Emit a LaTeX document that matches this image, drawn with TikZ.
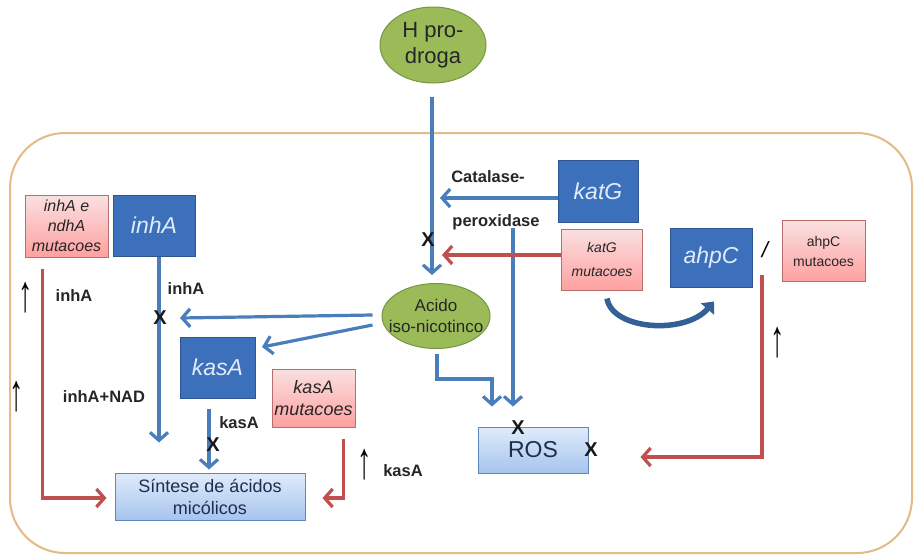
\documentclass[tikz,border=0pt]{standalone}
\usepackage{fontspec}
\usepackage{graphicx}
\setmainfont{Liberation Sans}
\usetikzlibrary{arrows.meta,shapes.geometric,calc}
\definecolor{boxblue}{RGB}{60,112,186}
\definecolor{boxblueD}{RGB}{45,85,145}
\definecolor{boxtxt}{RGB}{225,235,250}
\definecolor{arrblue}{RGB}{74,126,187}
\definecolor{curvblue}{RGB}{52,96,152}
\definecolor{arrred}{RGB}{192,80,77}
\definecolor{pinkT}{RGB}{250,224,224}
\definecolor{pinkB}{RGB}{255,160,160}
\definecolor{pinkD}{RGB}{185,110,110}
\definecolor{lbT}{RGB}{224,236,250}
\definecolor{lbB}{RGB}{165,196,238}
\definecolor{lbD}{RGB}{95,135,190}
\definecolor{leafgreen}{RGB}{155,187,89}
\definecolor{leafgreenD}{RGB}{120,150,70}
\definecolor{cellline}{RGB}{228,186,135}
\definecolor{darktxt}{RGB}{30,45,80}
\tikzset{
  genebox/.style={draw=boxblueD, fill=boxblue, line width=1pt, inner sep=0pt,
    font=\fontsize{23}{26}\selectfont\itshape, text=boxtxt},
  mutbox/.style={draw=pinkD, top color=pinkT, bottom color=pinkB, line width=1pt,
    inner sep=0pt, align=center, text=black!85},
  lbbox/.style={draw=lbD, top color=lbT, bottom color=lbB, line width=1pt,
    inner sep=0pt, align=center, text=darktxt},
  drug/.style={ellipse, draw=leafgreenD, fill=leafgreen, line width=1pt, inner sep=0pt},
  drugtxt/.style={align=center, text=black!85, inner sep=0pt},
  barr/.style={draw=arrblue, line width=3.2pt, -{Straight Barb[length=8pt,width=18pt]}},
  rarr/.style={draw=arrred, line width=3.2pt, -{Straight Barb[length=8pt,width=18pt]}},
  curv/.style={draw=curvblue, line width=5.5pt, -{Triangle[length=10pt,width=17pt]}},
  lbl/.style={font=\fontsize{16.5}{18}\selectfont\bfseries, text=black!85, inner sep=0pt},
  xmark/.style={font=\fontsize{20}{20}\selectfont\bfseries, text=black!90, inner sep=0pt},
  uparr/.style={font=\fontsize{26}{26}\selectfont, text=black, inner sep=0pt},
}
\begin{document}
\begin{tikzpicture}[x=1pt,y=-1pt]
\useasboundingbox (0,0) rectangle (917,558);
\fill[white] (0,0) rectangle (917,558);
% cell
\draw[cellline, line width=2pt, rounded corners=55pt] (10,133) rectangle (912,553);

% drugs
\node[drug, minimum width=106pt, minimum height=76pt] (hpro) at (433,45) {};
\node[drugtxt, font=\fontsize{22}{26}\selectfont] (hprotxt) at (hpro) {H pro-\\droga};
\node[drug, minimum width=108pt, minimum height=65pt] (acido) at (436,316) {};
\node[drugtxt, font=\fontsize{17}{21}\selectfont] (acidotxt) at (acido) {Acido\\iso-nicotinco};

% gene boxes
\node[genebox, minimum width=82pt, minimum height=61pt] (inhA) at (154,225.5) {inhA};
\node[genebox, minimum width=80pt, minimum height=62pt] (katG) at (598,191) {katG};
\node[genebox, minimum width=82pt, minimum height=59pt] (ahpC) at (711,257.5) {ahpC};
\node[genebox, minimum width=75pt, minimum height=61pt] (kasA) at (217.5,367.5) {kasA};

% mutation boxes
\node[mutbox, minimum width=83pt, minimum height=62pt, font=\fontsize{16}{20}\selectfont\itshape] (inhAmut) at (66.5,226) {inhA e\\ndhA\\mutacoes};
\node[mutbox, minimum width=81pt, minimum height=61pt, font=\fontsize{14}{24}\selectfont\itshape] (katGmut) at (602,259.5) {katG\\mutacoes};
\node[mutbox, minimum width=83pt, minimum height=61pt, font=\fontsize{14}{20}\selectfont] (ahpCmut) at (823.5,251) {ahpC\\mutacoes};
\node[mutbox, minimum width=83pt, minimum height=58pt, font=\fontsize{18}{22}\selectfont\itshape] (kasAmut) at (313.5,398) {kasA\\mutacoes};

% light blue boxes
\node[lbbox, minimum width=110pt, minimum height=46pt, font=\fontsize{23}{26}\selectfont] (ros) at (533,450) {ROS};
\node[lbbox, minimum width=190pt, minimum height=47pt, font=\fontsize{18}{22}\selectfont] (sintese) at (210,496.5) {Síntese de ácidos\\micólicos};

% free ends
\coordinate (perox) at (513,228);
\coordinate (xinh) at (180,318);
\coordinate (kasAin) at (262,347);
\coordinate (ahpred) at (762,275);

% blue connectors
\draw[barr, shorten >=8pt] ([xshift=-1pt,yshift=-13pt]hpro.south) -- ([xshift=-1pt]hpro.south |- acido.north);
\draw[barr, shorten >=8pt] (katG.west |- 0,198) -- ([xshift=-1pt]hpro.south |- 0,198);
\draw[barr, shorten >=20pt] (perox) -- (perox |- ros.north);
\draw[barr] ([xshift=-9pt,yshift=1pt]acido.west) -- (xinh);
\draw[barr] ([xshift=-9pt,yshift=-9pt]acido.west) -- (kasAin);
\draw[barr] ([xshift=1pt,yshift=-5pt]acido.south) -- ++(0,25) -| ([xshift=-41pt,yshift=20pt]ros.north);
\draw[barr] ([xshift=5pt]inhA.south) -- ++(0,186);
\draw[barr, shorten >=3pt] ([xshift=-8.5pt,yshift=-10pt]kasA.south) -- ([xshift=-8.5pt]kasA.south |- sintese.north);

% red connectors
\draw[rarr, shorten >=10pt] ([yshift=4.5pt]katGmut.west) -- ([xshift=-1pt,yshift=4.5pt]hpro.south |- katGmut.west);
\draw[rarr, shorten >=8pt] ([xshift=-24pt,yshift=-11pt]inhAmut.south) |- ([yshift=-1.5pt]sintese.west);
\draw[rarr, shorten >=17pt] ([xshift=30pt,yshift=-11pt]kasAmut.south) |- ([yshift=-1.5pt]sintese.east);
\draw[rarr] (ahpred) |- ([xshift=52pt,yshift=-7pt]ros.east);

% curved katG mut -> ahpC
\draw[curv] ([xshift=5pt,yshift=-8pt]katGmut.south) .. controls (612,330) and (685,335) .. ([xshift=3pt,yshift=-14pt]ahpC.south);

% labels
\node[lbl] (lcat) at (488,177) {Catalase-};
\node[lbl] (lper) at (496,222) {peroxidase};
\node[lbl] (linh1) at (186,289) {inhA};
\node[lbl] (linh2) at (74,296) {inhA};
\node[lbl] (lnad) at (104,397) {inhA+NAD};
\node[lbl] (lkas1) at (239,423) {kasA};
\node[lbl] (lkas2) at (403,471) {kasA};
\node[font=\fontsize{22}{22}\selectfont\itshape, inner sep=0pt] (slash) at (765,250) {/};

% X marks
\node[xmark] (x1) at (428,240) {X};
\node[xmark] (x2) at (160,318) {X};
\node[xmark] (x3) at (213,445) {X};
\node[xmark] (x4) at (518,428) {X};
\node[xmark] (x5) at (591,450) {X};

% up arrows
\node[uparr] (u1) at (26,298) {\scalebox{1.1}[2]{↑}};
\node[uparr] (u2) at (17,397) {\scalebox{1.1}[2]{↑}};
\node[uparr] (u3) at (365,465) {\scalebox{1.1}[2]{↑}};
\node[uparr] (u4) at (778,343) {\scalebox{1.1}[2]{↑}};
\end{tikzpicture}
\end{document}
